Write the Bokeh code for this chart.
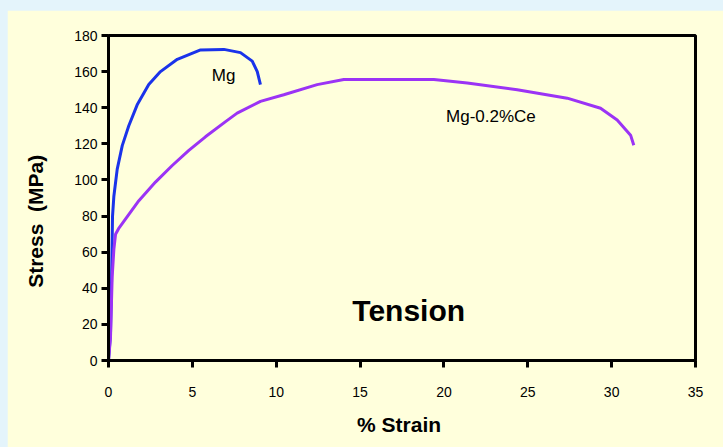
from bokeh.plotting import figure
from bokeh.models import Range1d, FixedTicker, Label
from bokeh.embed import file_html
from bokeh.resources import INLINE

# Data
mg_strain = [0.0, 0.12, 0.18, 0.24, 0.32, 0.52, 0.82, 1.21, 1.71, 2.40, 3.10,
             4.10, 5.49, 6.88, 7.87, 8.57, 8.87, 9.06]
mg_stress = [0.0, 15.0, 43.0, 80.0, 91.0, 106.0, 119.0, 130.0, 141.6, 152.8, 160.0,
             166.8, 172.0, 172.3, 170.5, 165.8, 160.0, 152.8]

ce_strain = [0.0, 0.12, 0.22, 0.32, 0.42, 0.60, 1.01, 1.81, 2.80, 3.80, 4.79, 5.78, 6.98,
             7.67, 9.06, 10.45, 12.44, 14.03, 19.4, 21.39, 24.37, 27.35, 29.34, 30.33,
             31.13, 31.32]
ce_stress = [0.0, 13.0, 46.5, 61.5, 69.9, 73.0, 78.3, 88.5, 98.8, 108.0, 116.4, 123.9, 132.3,
             137.0, 143.5, 147.2, 152.8, 155.6, 155.6, 153.7, 150.0, 145.3, 139.7, 133.2,
             124.8, 119.2]

x_ticks = [0, 5, 10, 15, 20, 25, 30, 35]
y_ticks = [0, 20, 40, 60, 80, 100, 120, 140, 160, 180]

CREAM = "#ffffdc"
FONT = "Liberation Sans"

p = figure(width=716, height=437, output_backend="svg", toolbar_location=None,
           x_range=Range1d(0, 35), y_range=Range1d(0, 180),
           min_border_left=101, min_border_right=28, min_border_top=25, min_border_bottom=87)
p.margin = (10, 0, 0, 7)
p.background_fill_color = CREAM
p.border_fill_color = CREAM
p.outline_line_color = "black"
p.outline_line_width = 3
p.grid.visible = False

p.line(mg_strain, mg_stress, line_color="#1a33ea", line_width=3)
p.line(ce_strain, ce_stress, line_color="#9b33f5", line_width=3)

for ax in (p.xaxis[0], p.yaxis[0]):
    ax.axis_line_width = 3
    ax.axis_line_color = "black"
    ax.major_tick_line_width = 3
    ax.major_tick_line_color = "black"
    ax.major_tick_out = 7
    ax.major_tick_in = 0
    ax.minor_tick_line_color = None
    ax.major_label_text_font = FONT
    ax.major_label_text_font_size = "14px"
    ax.major_label_text_color = "black"
    ax.axis_label_text_font = FONT
    ax.axis_label_text_font_size = "21px"
    ax.axis_label_text_font_style = "bold"
    ax.axis_label_text_color = "black"

xa = p.xaxis[0]
xa.ticker = FixedTicker(ticks=x_ticks)
xa.major_label_standoff = 19
xa.axis_label = "% Strain\u00a0"
xa.axis_label_standoff = 13

ya = p.yaxis[0]
ya.ticker = FixedTicker(ticks=y_ticks)
ya.major_label_standoff = 4
# trailing no-break spaces move the rotated title down, as in the reference
ya.axis_label = "Stress\u00a0 (MPa)" + "\u00a0" * 8
ya.axis_label_standoff = 24

p.add_layout(Label(x=6.86, y=157.6, text="Mg", text_font=FONT, text_font_size="17px",
                   text_align="center", text_baseline="middle", text_color="black"))
p.add_layout(Label(x=22.8, y=135.3, text="Mg-0.2%Ce", text_font=FONT, text_font_size="17px",
                   text_align="center", text_baseline="middle", text_color="black"))
p.add_layout(Label(x=17.9, y=27.9, text="Tension", text_font=FONT, text_font_size="30px",
                   text_font_style="bold", text_align="center", text_baseline="middle",
                   text_color="black"))

html = file_html(p, INLINE)
html = html.replace("</head>", "<style>html,body{margin:0;padding:0;background:#e4f4fb;}</style></head>", 1)
open("out.html", "w").write(html)
